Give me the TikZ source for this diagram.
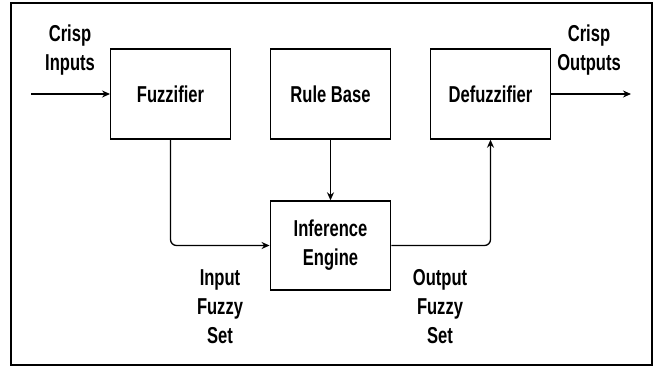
\documentclass[tikz,border=0pt]{standalone}
\usepackage{fontspec}
\setmainfont{Liberation Sans}[FakeStretch=0.72]
\usetikzlibrary{arrows.meta}
\tikzset{
  blk/.style={draw, line width=1.4pt, minimum width=119.5pt, minimum height=90pt,
    align=center, inner sep=0pt},
  lbl/.style={align=center, inner sep=0pt},
  arr/.style={line width=1.3pt, -{Stealth[length=8pt,width=7pt]}},
  every node/.style={font=\bfseries\fontsize{23}{29}\selectfont}
}
\begin{document}
\begin{tikzpicture}[x=1pt,y=-1pt]
  \useasboundingbox (0,0) rectangle (656,367);
  % outer frame
  \draw[line width=2pt] (11,3) rectangle (651.5,364.5);

  % processing blocks
  \node[blk] (fuz) at (170.5,94) {Fuzzifier};
  \node[blk] (rb)  at (330.5,94) {Rule Base};
  \node[blk] (def) at (490.5,94) {Defuzzifier};
  \node[blk, minimum width=120.5pt, minimum height=89pt] (inf) at (330.5,245.5) {Inference\\Engine};

  % free ends of the outer connectors
  \coordinate (cin)  at (31,94);
  \coordinate (cout) at (631,94);

  % connectors
  \draw[arr] (cin) -- (fuz.west);
  \draw[arr] (def.east) -- (cout);
  \draw[arr] (rb.south) -- (inf.north);
  \draw[arr, rounded corners=6pt] (fuz.south) |- (inf.west);
  \draw[arr, rounded corners=6pt] (inf.east) -| (def.south);

  % signal labels
  \node[lbl] (lin)  at (70,50)   {Crisp\\Inputs};
  \node[lbl] (lout) at (589,50)  {Crisp\\Outputs};
  \node[lbl] (lifs) at (220,307) {Input\\Fuzzy\\Set};
  \node[lbl] (lofs) at (440,307) {Output\\Fuzzy\\Set};
\end{tikzpicture}
\end{document}
